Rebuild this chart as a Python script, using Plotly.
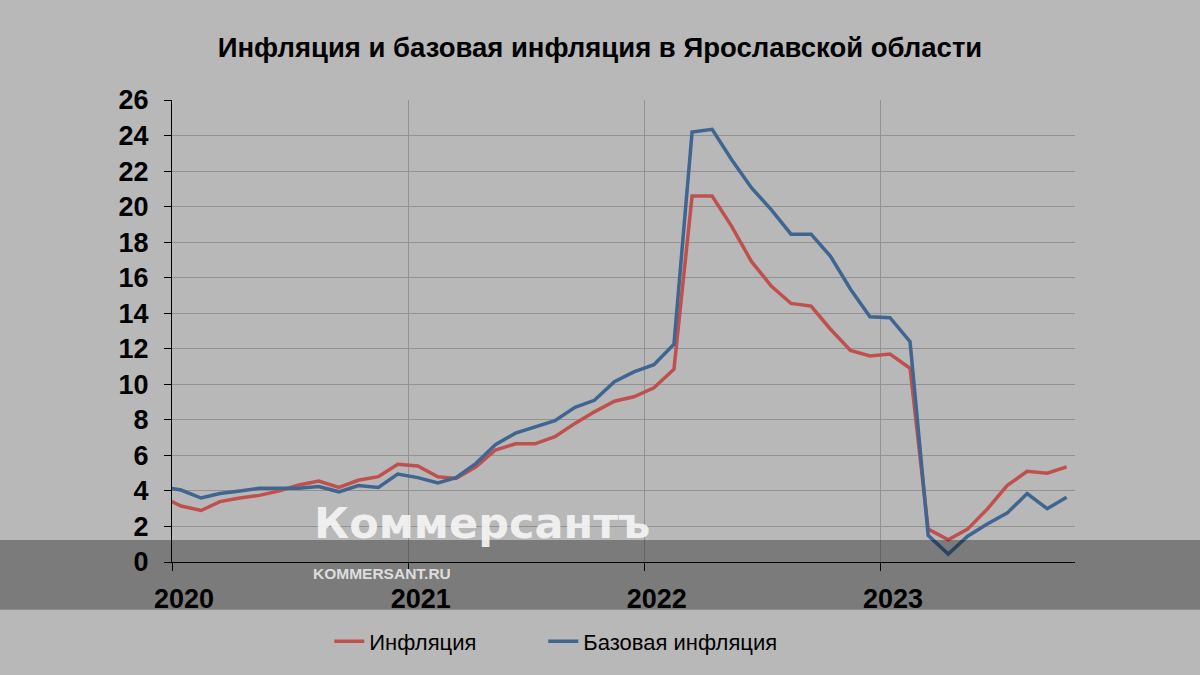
import plotly.graph_objects as go

# ---- data (monthly, Dec 2019 – Oct 2023, % y/y) ----
months = [f"{y}-{m:02d}-15" for y, m in
          [(2019, 12)] + [(y, m) for y in range(2020, 2024) for m in range(1, 13)][:46]]

inflation = [3.7,
             3.15, 2.9, 3.4, 3.6, 3.75, 4.0, 4.33, 4.56, 4.2, 4.6, 4.8, 5.5,
             5.4, 4.8, 4.7, 5.35, 6.3, 6.65, 6.65, 7.05, 7.8, 8.45, 9.05, 9.3,
             9.8, 10.85, 20.6, 20.6, 18.9, 16.9, 15.55, 14.55, 14.4, 13.1, 11.9, 11.6,
             11.7, 10.9, 1.85, 1.25, 1.85, 3.0, 4.3, 5.1, 5.0, 5.35]

core_inflation = [4.25,
                  4.05, 3.6, 3.85, 4.0, 4.15, 4.15, 4.15, 4.25, 3.95, 4.3, 4.2, 4.95,
                  4.75, 4.45, 4.75, 5.55, 6.6, 7.25, 7.6, 7.95, 8.7, 9.1, 10.15, 10.7,
                  11.1, 12.25, 24.2, 24.35, 22.65, 21.05, 19.85, 18.45, 18.45, 17.2, 15.35, 13.8,
                  13.75, 12.4, 1.5, 0.45, 1.45, 2.15, 2.75, 3.85, 3.0, 3.65]

years = ["2020", "2021", "2022", "2023"]
y_ticks = list(range(0, 27, 2))

series_names = ["Инфляция", "Базовая инфляция"]
title_text = "Инфляция и базовая инфляция в Ярославской области"

RED = "#c0504d"
BLUE = "#3f6591"
BG = "#b8b8b8"
FONT = "Liberation Sans, Arial, sans-serif"

fig = go.Figure()
fig.add_trace(go.Scatter(x=months, y=inflation, mode="lines", name=series_names[0],
                         line=dict(color=RED, width=3.5), legend="legend"))
fig.add_trace(go.Scatter(x=months, y=core_inflation, mode="lines", name=series_names[1],
                         line=dict(color=BLUE, width=3.5), legend="legend2"))

pw = 903.0
ph = 464.0
leg_font = dict(size=22, family=FONT, color="black")
leg_x = 0.1775 - 3 / pw

fig.update_layout(
    width=1200, height=675,
    paper_bgcolor=BG, plot_bgcolor=BG,
    margin=dict(l=172, r=125, t=100, b=111),
    font=dict(family=FONT, color="black"),
    title=dict(text=title_text, x=0.5, xanchor="center", y=0.930, yanchor="middle",
               font=dict(size=27.5, family=FONT, color="black", weight="bold")),
    showlegend=True,
    legend=dict(orientation="h", x=leg_x, xanchor="left", y=-0.172, yanchor="middle",
                font=leg_font, bgcolor="rgba(0,0,0,0)"),
    legend2=dict(orientation="h", x=leg_x + 214 / pw, xanchor="left", y=-0.172,
                 yanchor="middle", font=leg_font, bgcolor="rgba(0,0,0,0)"),
    xaxis=dict(type="date", range=["2020-01-01", "2023-10-28"],
               tickvals=[f"{y}-01-01" for y in years], ticktext=years,
               showgrid=True, gridcolor="#929292", gridwidth=1,
               showline=True, linecolor="black", linewidth=1.2,
               ticks="outside", ticklen=8, tickcolor="black", tickwidth=1.2,
               ticklabelshift=12, ticklabelstandoff=4,
               tickfont=dict(size=27, family=FONT, color="black", weight="bold"),
               zeroline=False, fixedrange=True),
    yaxis=dict(range=[0, 26], tickvals=y_ticks,
               showgrid=True, gridcolor="#929292", gridwidth=1,
               showline=True, linecolor="black", linewidth=1.2,
               ticks="outside", ticklen=7, tickcolor="black", tickwidth=1.2,
               ticklabelstandoff=10,
               tickfont=dict(size=27, family=FONT, color="black", weight="bold"),
               zeroline=False, fixedrange=True),
)

# dark watermark band across the whole width
fig.add_shape(type="rect", xref="paper", yref="paper",
              x0=-172 / pw, x1=(1200 - 172) / pw,
              y0=(564 - 612) / ph, y1=(564 - 542) / ph,
              fillcolor="rgba(0,0,0,0.33)", line=dict(width=0), layer="above")

fig.add_annotation(text="Коммерсантъ", xref="paper", yref="paper",
                   x=(312 - 172) / pw, xanchor="left",
                   y=(564 - 525) / ph, yanchor="middle", showarrow=False,
                   font=dict(size=43, family="DejaVu Sans, sans-serif",
                             color="rgba(245,245,245,0.92)", weight="bold"))
fig.add_annotation(text="KOMMERSANT.RU", xref="paper", yref="paper",
                   x=(311 - 172) / pw, xanchor="left",
                   y=(564 - 576) / ph, yanchor="middle", showarrow=False,
                   font=dict(size=15.5, family=FONT,
                             color="rgba(228,228,228,0.95)", weight="bold"))

fig.write_html("out.html", post_script="document.body.style.margin='0';",
               config={"displayModeBar": False})
